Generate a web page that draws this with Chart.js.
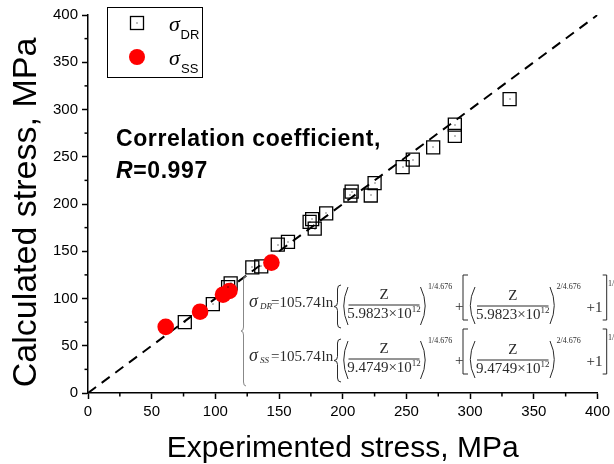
<!DOCTYPE html>
<html>
<head>
<meta charset="utf-8">
<script src="https://cdn.jsdelivr.net/npm/chart.js@4.4.0/dist/chart.umd.min.js"></script>
<style>
  html, body { margin: 0; padding: 0; background: #fff; }
</style>
</head>
<body>
<canvas id="chart" width="614" height="464"></canvas>
<script>
// sigma_DR (squares): experimented vs calculated
const drX = [76, 98, 110, 112, 129, 136, 149, 157, 174, 176, 178, 187, 206, 207, 222, 225, 247, 255, 271, 288, 288, 331];
const drY = [75, 94, 112, 116, 133, 134, 157, 160, 181, 184, 174, 190, 209, 213, 209, 222, 239, 247, 260, 284, 272, 311];
// sigma_SS (red dots)
const ssX = [61, 88, 106, 111, 144];
const ssY = [70, 86, 104, 108, 138];
// y = x reference line
const fitX = [0, 400];
const fitY = [0, 400];

const sans = '"Liberation Sans", Arial, sans-serif';
const serif = '"Liberation Serif", "Times New Roman", serif';
const eqColor = '#2b2b2b';

function toPoints(xs, ys) {
  return xs.map((x, i) => ({ x: x, y: ys[i] }));
}

function paren(ctx, x0, x1, top, bot, left) {
  const mid = (top + bot) / 2;
  ctx.beginPath();
  if (left) {
    ctx.moveTo(x1, top);
    ctx.quadraticCurveTo(x0 - (x1 - x0) * 0.7, mid, x1, bot);
  } else {
    ctx.moveTo(x0, top);
    ctx.quadraticCurveTo(x1 + (x1 - x0) * 0.7, mid, x0, bot);
  }
  ctx.stroke();
}

function bracket(ctx, x0, x1, top, bot, left) {
  ctx.beginPath();
  if (left) {
    ctx.moveTo(x1, top); ctx.lineTo(x0, top); ctx.lineTo(x0, bot); ctx.lineTo(x1, bot);
  } else {
    ctx.moveTo(x0, top); ctx.lineTo(x1, top); ctx.lineTo(x1, bot); ctx.lineTo(x0, bot);
  }
  ctx.stroke();
}

function curly(ctx, x0, x1, top, bot) {
  const mid = (top + bot) / 2, xm = (x0 + x1) / 2;
  ctx.beginPath();
  ctx.moveTo(x1, top);
  ctx.quadraticCurveTo(xm, top, xm, top + 4);
  ctx.lineTo(xm, mid - 4);
  ctx.quadraticCurveTo(xm, mid, x0, mid);
  ctx.quadraticCurveTo(xm, mid, xm, mid + 4);
  ctx.lineTo(xm, bot - 4);
  ctx.quadraticCurveTo(xm, bot, x1, bot);
  ctx.stroke();
}

function frac(ctx, x0, x1, yb, den) {
  const cx = (x0 + x1) / 2;
  ctx.beginPath();
  ctx.moveTo(x0, yb - 2);
  ctx.lineTo(x1, yb - 2);
  ctx.stroke();
  ctx.font = '15px ' + serif;
  ctx.textAlign = 'center';
  ctx.fillText('Z', cx, yb - 8);
  ctx.textAlign = 'left';
  const main = den + '\u00d710';
  const w1 = ctx.measureText(main).width;
  ctx.font = '9px ' + serif;
  const w2 = ctx.measureText('12').width;
  const sx = cx - (w1 + w2) / 2;
  ctx.font = '15px ' + serif;
  ctx.fillText(main, sx, yb + 11);
  ctx.font = '9px ' + serif;
  ctx.fillText('12', sx + w1, yb + 5);
}

function equation(ctx, yb, name, den) {
  ctx.font = 'italic 18px ' + serif;
  ctx.fillText('\u03c3', 249, yb);
  ctx.font = 'italic 9px ' + serif;
  ctx.fillText(name, 260, yb + 2);
  ctx.font = '15px ' + serif;
  ctx.fillText('=', 271, yb);
  ctx.fillText('105.74', 279.5, yb);
  ctx.fillText('ln', 321.5, yb);
  curly(ctx, 334, 341, yb - 22, yb + 21);
  paren(ctx, 343, 348, yb - 20, yb + 18, true);
  frac(ctx, 348.5, 419.5, yb, den);
  paren(ctx, 420.5, 426, yb - 20, yb + 18, false);
  ctx.font = '8px ' + serif;
  ctx.fillText('1/4.676', 428, yb - 18);
  ctx.font = '15px ' + serif;
  ctx.fillText('+', 455, yb + 4);
  bracket(ctx, 463, 468, yb - 32, yb + 13, true);
  paren(ctx, 469.5, 475, yb - 20, yb + 17, true);
  frac(ctx, 477, 548.5, yb + 1, den);
  paren(ctx, 550, 555, yb - 20, yb + 17, false);
  ctx.font = '8px ' + serif;
  ctx.fillText('2/4.676', 556.5, yb - 18);
  ctx.font = '15px ' + serif;
  ctx.fillText('+1', 586.5, yb + 5);
  bracket(ctx, 602.7, 606.7, yb - 32, yb + 13, false);
  ctx.font = '8px ' + serif;
  ctx.fillText('1/2', 608, yb - 21);
}

const extras = {
  id: 'extras',
  afterDatasetsDraw(chart) {
    const ctx = chart.ctx;
    // little dot in the middle of each square marker
    const meta = chart.getDatasetMeta(0);
    ctx.save();
    ctx.fillStyle = '#000';
    meta.data.forEach(p => ctx.fillRect(Math.round(p.x) - 0.5, Math.round(p.y) - 0.5, 1, 1));
    ctx.restore();
  },
  afterDraw(chart) {
    const ctx = chart.ctx;
    const area = chart.chartArea;
    const xs = chart.scales.x, ys = chart.scales.y;
    ctx.save();

    // minor ticks
    ctx.strokeStyle = '#000';
    ctx.lineWidth = 1.5;
    for (let v = 25; v < 400; v += 50) {
      const px = xs.getPixelForValue(v);
      ctx.beginPath(); ctx.moveTo(px, area.bottom); ctx.lineTo(px, area.bottom + 3.5); ctx.stroke();
      const py = ys.getPixelForValue(v);
      ctx.beginPath(); ctx.moveTo(area.left, py); ctx.lineTo(area.left - 3.5, py); ctx.stroke();
    }

    // legend
    ctx.lineWidth = 1;
    ctx.strokeRect(107.5, 7.5, 95, 70);
    ctx.lineWidth = 1.3;
    ctx.strokeRect(130.5, 16.5, 13, 13);
    ctx.fillStyle = '#000';
    ctx.fillRect(136.5, 22.5, 1, 1);
    ctx.fillStyle = '#ff0000';
    ctx.beginPath(); ctx.arc(137, 57, 8, 0, Math.PI * 2); ctx.fill();
    ctx.fillStyle = '#000';
    ctx.font = 'italic 22px ' + serif;
    ctx.fillText('\u03c3', 169, 31);
    ctx.fillText('\u03c3', 169, 65);
    ctx.font = '13px ' + sans;
    ctx.fillText('DR', 180.5, 38.5);
    ctx.fillText('SS', 181, 72.5);

    // correlation note
    ctx.font = 'bold 23px ' + sans;
    ctx.letterSpacing = '0.6px';
    ctx.fillText('Correlation coefficient,', 116, 146);
    ctx.font = 'italic bold 23px ' + sans;
    ctx.fillText('R', 116, 178);
    const rw = ctx.measureText('R').width;
    ctx.font = 'bold 23px ' + sans;
    ctx.fillText('=0.997', 116 + rw, 178);
    ctx.letterSpacing = '0px';

    // equations
    ctx.fillStyle = eqColor;
    ctx.lineWidth = 1;
    ctx.strokeStyle = '#888';
    curly(ctx, 241, 246, 276, 386);
    ctx.strokeStyle = eqColor;
    equation(ctx, 307, 'DR', '5.9823');
    equation(ctx, 361, 'SS', '9.4749');
    ctx.restore();
  }
};

const tickFont = { family: sans, size: 15 };

new Chart(document.getElementById('chart').getContext('2d'), {
  type: 'scatter',
  data: {
    datasets: [
      {
        label: 'DR',
        data: toPoints(drX, drY),
        pointStyle: 'rect',
        pointRadius: 9.2,
        borderColor: '#000',
        borderWidth: 1.3,
        backgroundColor: 'rgba(0,0,0,0)',
        order: 2
      },
      {
        label: 'SS',
        data: toPoints(ssX, ssY),
        pointStyle: 'circle',
        pointRadius: 8.3,
        backgroundColor: '#ff0000',
        borderColor: '#ff0000',
        borderWidth: 0,
        order: 1
      },
      {
        label: 'fit',
        data: toPoints(fitX, fitY),
        showLine: true,
        borderColor: '#000',
        borderWidth: 2,
        borderDash: [10, 7],
        pointRadius: 0,
        order: 3
      }
    ]
  },
  options: {
    responsive: false,
    animation: false,
    events: [],
    layout: { padding: { top: 15, right: 15, left: 0, bottom: 0 } },
    plugins: { legend: { display: false }, tooltip: { enabled: false } },
    scales: {
      x: {
        type: 'linear', min: 0, max: 400,
        ticks: { stepSize: 50, font: tickFont, color: '#000', padding: 4, maxRotation: 0 },
        grid: { drawOnChartArea: false, tickLength: 6, color: '#000', tickWidth: 1.5 },
        border: { color: '#000', width: 1.5 },
        title: { display: true, text: 'Experimented stress, MPa', color: '#000',
                 font: { family: sans, size: 30, lineHeight: 1 }, padding: { top: 0, bottom: 0 } },
        afterFit: s => { s.height = 71; }
      },
      y: {
        type: 'linear', min: 0, max: 400,
        ticks: { stepSize: 50, font: tickFont, color: '#000', padding: 4 },
        grid: { drawOnChartArea: false, tickLength: 6, color: '#000', tickWidth: 1.5 },
        border: { color: '#000', width: 1.5 },
        title: { display: true, text: 'Calculated stress, MPa\u2002', color: '#000',
                 font: { family: sans, size: 34, lineHeight: 1 }, padding: { top: 10, bottom: 0 } },
        afterFit: s => { s.width = 88; }
      }
    }
  },
  plugins: [extras]
});
</script>
</body>
</html>
